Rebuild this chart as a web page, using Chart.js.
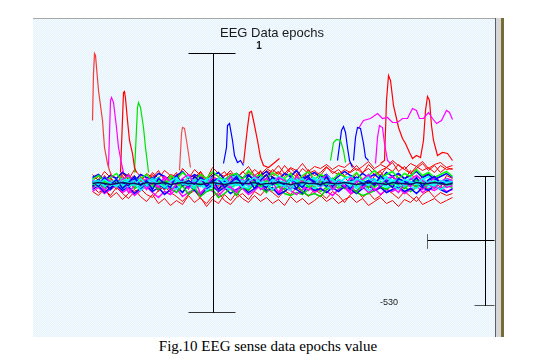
<!DOCTYPE html>
<html>
<head>
<meta charset="utf-8">
<script src="https://cdn.jsdelivr.net/npm/chart.js@4/dist/chart.umd.min.js"></script>
<style>
  body { margin: 0; background: #fff; width: 537px; height: 361px; position: relative; overflow: hidden; }
  #panel {
    position: absolute; left: 33px; top: 18px; width: 462px; height: 319px;
    background: repeating-conic-gradient(#e0f6fc 0 25%, #f8f7fe 0 50%) 0 0 / 2px 2px;
    border-top: 1px solid #a8a8a8; box-sizing: border-box;
  }
  #edge1 { position: absolute; left: 495px; top: 18px; width: 1px; height: 319px; background: #5e5e5e; }
  #edge2 { position: absolute; left: 496px; top: 18px; width: 5px; height: 319px; background: #d6d6d6; }
  #edge3 { position: absolute; left: 501px; top: 18px; width: 3px; height: 319px; background: #776c36; }
  #wrap { position: absolute; left: 33px; top: 18px; width: 462px; height: 319px; }
  .lbl { position: absolute; font-family: "Liberation Sans", Arial, sans-serif; color: #1a1a1a; white-space: nowrap; }
  #title { left: 272px; top: 25px; font-size: 13px; transform: translateX(-50%); }
  #epoch { left: 259px; top: 40px; font-size: 10px; font-weight: bold; transform: translateX(-50%); }
  #scale { left: 380px; top: 297px; font-size: 9px; }
  #caption { position: absolute; left: 268px; top: 338px; transform: translateX(-50%);
    font-family: "Liberation Serif", "Times New Roman", serif; font-size: 15px; color: #000; white-space: nowrap; }
</style>
</head>
<body>
<div id="panel"></div>
<div id="edge1"></div><div id="edge2"></div><div id="edge3"></div>
<div id="wrap"><canvas id="myChart" width="462" height="319"></canvas></div>
<div class="lbl" id="title">EEG Data epochs</div>
<div class="lbl" id="epoch">1</div>
<div class="lbl" id="scale">-530</div>
<div id="caption">Fig.10 EEG sense data epochs value</div>
<script>
// sample positions inside the epoch
const times = [0,6,12,18,24,30,36,42,48,54,60,66,72,78,84,90,96,102,108,114,120,126,132,138,144,150,156,162,168,174,180,186,192,198,204,210,216,222,228,234,240,246,252,258,264,270,276,282,288,294,300,306,312,318,324,330,336,342,348,354,360];

// background channels (amplitude)
const chCyan1 = [2,-1,4,0,-3,3,1,-2,5,-1,3,0,-4,2,6,-1,1,-3,4,2,-2,5,0,-1,3,-4,2,6,1,-2,4,0,-3,5,2,-1,3,-2,6,0,-1,4,1,-3,5,2,-2,3,0,6,1,-3,4,2,-1,5,0,-2,3,1,2];
const chCyan2 = [-1,3,-3,1,4,-2,0,3,-4,2,5,-1,1,-3,3,0,-2,4,1,-4,2,0,5,-2,1,3,-3,0,4,-1,-2,3,1,-4,2,5,-1,0,-3,3,4,-2,1,2,-4,0,3,5,-1,-2,2,4,-3,1,0,-2,3,1,-1,4,0];
const chCyan3 = [4,1,6,2,-1,5,3,7,0,4,2,6,-1,3,5,1,7,2,-2,4,6,3,0,5,8,2,4,-1,6,3,1,7,4,2,5,-1,3,6,2,8,4,0,5,7,2,3,6,1,4,7,3,5,0,6,2,4,7,3,1,5,3];
const chCyan4 = [-4,-1,-6,-2,1,-5,-3,0,-7,-2,-4,1,-5,-3,-6,0,-2,-5,-1,-7,-3,0,-4,-6,-1,-3,-5,1,-4,-2,-6,-1,-3,-7,0,-4,-2,-5,-1,-3,-6,0,-4,-2,-5,-1,-7,-3,0,-4,-2,-6,-1,-3,-5,0,-4,-2,-6,-3,-2];
const chCyan5 = [1,3,-2,0,2,-1,4,1,-3,2,0,3,-2,1,4,-1,2,0,-3,3,1,-1,4,2,-2,0,3,1,-1,2,5,0,-2,3,1,-3,2,4,0,-1,3,1,-2,2,4,0,-1,3,-3,1,2,0,4,-1,1,3,-2,0,2,-1,1];
const chGreen1 = [1,4,-2,3,-4,5,0,-3,4,2,-1,-6,3,-5,-9,-2,-11,-4,-13,-8,-6,-14,-10,-5,-12,-3,-7,1,-4,-9,2,-2,-6,3,-1,-8,-12,-10,-13,-6,-3,0,-5,-2,-9,0,-4,2,-3,-6,1,-2,-5,0,-3,2,-1,-4,1,-2,0];
const chGreen2 = [4,8,2,6,10,3,7,-1,5,9,2,6,-2,8,4,11,6,2,9,5,12,7,3,8,10,4,13,6,9,3,11,7,5,10,2,8,12,4,9,6,3,10,7,5,11,4,8,13,6,9,12,5,10,7,14,8,11,6,9,12,7];
const chGreen3 = [0,-3,2,-1,3,-4,1,-2,4,0,-3,2,-1,5,0,-2,3,-4,1,2,-1,4,-3,0,2,-2,5,1,-3,3,0,-1,4,-2,1,3,-4,0,2,-1,5,-3,1,0,-2,3,1,-4,2,0,-1,3,-2,1,4,-3,0,2,-1,3,0];
const chGreen4 = [-2,1,-4,0,-3,-1,2,-5,-2,0,-4,1,-3,-6,-1,-3,0,-5,-2,1,-4,-7,-2,-5,0,-3,-6,-1,-4,-2,-7,-3,-10,-12,-9,-11,-6,-3,-8,-4,-1,-5,-2,-6,-9,-12,-10,-7,-4,-6,-2,-5,-3,-8,-4,-1,-6,-3,-5,-2,-4];
const chBlue1 = [2,-3,6,-1,4,-5,1,7,-2,3,-6,5,0,-4,8,-2,3,-1,6,-3,2,5,-4,1,7,-2,4,-5,3,9,-1,2,-3,6,0,-4,5,2,-2,7,-3,4,1,-5,6,0,3,-2,8,1,-4,5,2,-1,6,-3,4,7,0,3,1];
const chBlue2 = [-3,4,0,-6,3,1,-2,5,-4,2,6,-1,-5,3,0,4,-3,7,1,-2,4,-6,2,0,5,-3,8,3,-1,-4,6,1,-2,4,-5,3,7,-1,2,-3,5,0,-4,3,6,-2,1,4,-3,2,7,0,-2,5,1,-4,3,6,-1,2,0];
const chBlue3 = [-6,-2,-9,-4,-1,-7,-3,-10,-5,-2,-8,-4,-11,-6,-3,-9,-1,-7,-12,-5,-2,-8,-4,-10,-6,-3,-9,-5,-1,-7,-4,-11,-8,-3,-6,-10,-2,-7,-5,-9,-4,-8,-3,-6,-10,-5,-2,-7,-4,-9,-6,-3,-8,-5,-10,-4,-7,-2,-6,-9,-5];
const chBlue4 = [6,9,3,8,5,11,7,2,9,6,4,10,7,3,8,12,5,9,6,2,8,11,4,7,10,5,9,3,8,12,6,4,10,7,13,5,8,11,6,9,3,7,12,8,5,10,6,9,4,11,7,10,5,8,12,6,9,4,7,10,6];
const chMagenta1 = [-5,2,-7,0,-3,5,-9,-2,3,-6,1,-4,6,-8,-1,2,-5,4,-10,-3,0,-7,3,-4,-8,1,-2,5,-6,-3,2,-9,0,-5,4,-2,-7,1,-4,3,-6,0,-3,-8,2,-5,1,-7,-2,4,-4,-9,0,-3,3,-6,-1,-5,2,-4,-2];
const chMagenta2 = [3,-1,6,2,-3,4,8,1,-2,5,3,-4,7,2,-1,5,9,0,4,-2,6,3,-5,7,1,4,-3,8,2,5,-1,6,3,-4,7,1,5,-2,4,8,0,3,-3,6,2,4,9,1,-2,5,7,2,-1,4,8,3,0,6,2,5,3];
const chMagenta3 = [-8,-4,-10,-6,-2,-9,-5,-12,-7,-3,-9,-14,-8,-11,-5,-13,-9,-6,-10,-4,-8,-12,-6,-3,-9,-5,-11,-7,-2,-8,-5,-10,-4,-7,-11,-6,-3,-9,-5,-8,-12,-6,-4,-10,-7,-3,-9,-5,-11,-6,-8,-4,-10,-6,-2,-9,-5,-7,-3,-8,-6];
const chRedHigh = [-4,3,-6,5,-2,8,-5,2,6,-3,4,-8,3,7,-2,5,-6,9,-1,4,6,-3,8,10,5,12,7,14,9,15,11,18,10,16,13,20,12,17,15,19,14,18,16,21,13,17,22,15,19,16,23,18,14,20,17,22,15,19,21,16,18];
const chRedLow = [-8,-12,-5,-14,-9,-16,-10,-6,-13,-18,-11,-20,-15,-22,-17,-21,-12,-19,-14,-23,-16,-20,-11,-17,-9,-15,-19,-12,-18,-14,-20,-16,-22,-13,-19,-15,-21,-17,-12,-18,-14,-20,-16,-13,-19,-15,-22,-18,-14,-20,-17,-23,-16,-19,-13,-21,-18,-15,-20,-17,-14];
const chRedMid = [5,-2,8,1,-6,3,10,-4,6,-1,9,2,-7,4,11,-3,7,0,12,-5,8,3,-2,10,6,-4,9,1,13,-2,7,11,4,-6,9,2,14,-1,8,5,-3,11,6,0,10,3,-5,8,12,2,-2,9,4,13,-1,7,10,3,-4,8,5];
const chRedTop = [9,3,12,6,-1,10,4,14,7,2,11,5,13,8,3,15,9,6,12,4,16,10,7,13,5,11,17,8,12,6,14,9,18,11,7,15,10,13,8,16,12,9,14,11,15,10,19,13,8,16,21,12,17,10,15,20,13,18,11,16,14];
const chRedLow2 = [-3,-9,-6,-12,-4,-10,-15,-8,-5,-11,-14,-7,-3,-9,-13,-18,-11,-7,-15,-20,-13,-9,-17,-21,-14,-10,-16,-8,-12,-5,-9,-14,-7,-11,-4,-8,-13,-6,-10,-15,-8,-12,-19,-11,-7,-14,-9,-16,-12,-6,-10,-15,-8,-13,-18,-11,-7,-14,-9,-12,-10];
const chRedUp2 = [3,7,1,9,5,12,4,8,2,10,6,13,3,9,7,11,5,14,8,4,10,7,12,3,9,6,11,8,5,13,9,12,7,15,10,6,13,8,11,17,10,14,8,12,18,11,15,9,13,16,12,19,14,10,17,13,16,11,18,14,15];
const chMean = [0,1,0,-1,0,1,0,0,-1,1,0,0,1,-1,0,1,0,0,-1,0,1,0,-1,0,1,0,0,1,-1,0,0,1,0,-1,0,1,0,0,-1,1,0,0,1,0,-1,0,1,0,0,-1,1,0,0,-1,1,0,0,1,0,-1,0];

// transient bursts: [sample, amplitude]
const burstRed1 = [[0,63],[1,110],[2,130],[3,128],[6,93],[10,63],[12,36],[15,20],[17,13],[20,6]];
const burstMagenta1 = [[16,16],[18,83],[19,86],[21,81],[24,56],[26,36],[29,20],[31,11]];
const burstRed2 = [[28,11],[31,91],[32,92],[33,85],[35,63],[37,43],[40,30],[42,16],[44,11]];
const burstGreen1 = [[42,11],[45,76],[46,81],[48,76],[51,56],[53,36],[55,20],[56,11]];
const burstRed3 = [[87,13],[89,50],[90,56],[92,55],[94,43],[96,30],[98,16]];
const burstBlue1 = [[131,20],[134,36],[135,58],[137,60],[140,43],[142,28],[145,21],[148,23],[151,18]];
const burstRed4 = [[151,20],[155,56],[157,71],[159,72],[161,63],[165,43],[168,26],[171,18],[176,16],[181,20],[187,25]];
const burstGreen2 = [[238,23],[241,41],[244,44],[248,43],[251,33],[253,21]];
const burstBlue2 = [[245,23],[249,53],[251,57],[253,51],[255,36],[257,23],[260,16]];
const burstBlue3 = [[261,23],[263,46],[265,56],[268,55],[271,40],[273,26],[276,23]];
const burstMagenta2 = [[283,20],[285,46],[287,58],[290,56],[292,40],[295,23],[298,20]];
const burstMagenta3 = [[266,55],[271,63],[278,65],[285,70],[290,65],[295,66],[300,61],[305,61],[310,65],[315,65],[320,75],[324,73],[327,65],[331,65],[336,71],[340,65],[344,60],[349,63],[354,73],[357,71],[360,64]];
const burstRed5 = [[288,20],[292,23],[294,83],[296,108],[298,103],[301,78],[304,65],[306,56],[310,45],[313,40],[317,31],[320,25],[324,28],[328,26],[331,43],[333,73],[335,87],[337,83],[339,58],[341,43],[345,28],[350,31],[355,30],[360,23]];

// amplitude scale bars
const epochBar = { at: 121, from: 96, to: 143, top: 130, bottom: -129 };
const ampBar = { at: 393, from: 382, to: 402, top: 7, bottom: -122, mid: -57, midFrom: 335 };

const pts = arr => arr.map(p => ({ x: p[0], y: p[1] }));
const chan = vals => times.map((t, i) => ({ x: t, y: vals[i] }));
const line = (data, color, w) => ({ data, borderColor: color, borderWidth: w || 1, pointRadius: 0, tension: 0, fill: false });

const datasets = [
  line([{x: epochBar.from, y: epochBar.top}, {x: epochBar.to, y: epochBar.top}], '#000'),
  line([{x: epochBar.at, y: epochBar.top}, {x: epochBar.at, y: epochBar.bottom}], '#000'),
  line([{x: epochBar.from, y: epochBar.bottom}, {x: epochBar.to, y: epochBar.bottom}], '#333'),
  line([{x: ampBar.from, y: ampBar.top}, {x: ampBar.to, y: ampBar.top}], '#000'),
  line([{x: ampBar.at, y: ampBar.top}, {x: ampBar.at, y: ampBar.bottom}], '#000'),
  line([{x: ampBar.from, y: ampBar.bottom}, {x: ampBar.to, y: ampBar.bottom}], '#555'),
  line([{x: ampBar.midFrom, y: ampBar.mid}, {x: ampBar.to, y: ampBar.mid}], '#000'),
  line([{x: ampBar.midFrom, y: ampBar.mid + 6}, {x: ampBar.midFrom, y: ampBar.mid - 8}], '#666'),
  line(pts(burstRed1), '#f23c3c', 1.2),
  line(pts(burstMagenta1), '#ff00ff', 1.2),
  line(pts(burstRed2), '#ff0000', 1.2),
  line(pts(burstGreen1), '#00e000', 1.2),
  line(pts(burstRed3), '#f05050', 1.2),
  line(pts(burstBlue1), '#0000ff', 1.2),
  line(pts(burstRed4), '#ff0000', 1.2),
  line(pts(burstGreen2), '#00e000', 1.2),
  line(pts(burstBlue2), '#0000ff', 1.2),
  line(pts(burstBlue3), '#0000ff', 1.2),
  line(pts(burstMagenta2), '#ff00ff', 1.2),
  line(pts(burstMagenta3), '#ff00ff', 1.2),
  line(pts(burstRed5), '#ff0000', 1.2),
  line(chan(chMean), '#101060', 1.5),
  line(chan(chCyan1), '#00ffff', 1.5),
  line(chan(chBlue1), '#0000ff', 1.5),
  line(chan(chCyan2), '#00f0f0', 1.5),
  line(chan(chMagenta2), '#ff00ff', 1.5),
  line(chan(chGreen3), '#00ff00', 1.5),
  line(chan(chCyan3), '#00ffff', 1.5),
  line(chan(chBlue2), '#0000e0', 1.5),
  line(chan(chCyan5), '#00e8f0', 1.5),
  line(chan(chGreen2), '#00ff00', 1.5),
  line(chan(chMagenta1), '#ff00ff', 1.5),
  line(chan(chCyan4), '#00ffff', 1.5),
  line(chan(chBlue4), '#0000ff', 1.5),
  line(chan(chGreen1), '#00d000', 1.5),
  line(chan(chBlue3), '#0000ff', 1.5),
  line(chan(chMagenta3), '#ff00ff', 1.5),
  line(chan(chGreen4), '#00e000', 1.5),
  line(chan(chRedMid), '#ff0000', 1),
  line(chan(chRedTop), '#ff0000', 1),
  line(chan(chRedUp2), '#ff0000', 1),
  line(chan(chRedHigh), '#ff0000', 1),
  line(chan(chRedLow2), '#ff0000', 1),
  line(chan(chRedLow), '#ff0000', 1)
];

const ctx = document.getElementById('myChart');

new Chart(ctx, {
  type: 'line',
  data: { datasets },
  options: {
    responsive: false,
    animation: false,
    events: [],
    layout: { padding: 0 },
    plugins: { legend: { display: false }, tooltip: { enabled: false } },
    scales: {
      x: { type: 'linear', display: false, min: -59.5, max: 402.5 },
      y: { type: 'linear', display: false, min: -153.5, max: 165.5 }
    }
  }
});
</script>
</body>
</html>
